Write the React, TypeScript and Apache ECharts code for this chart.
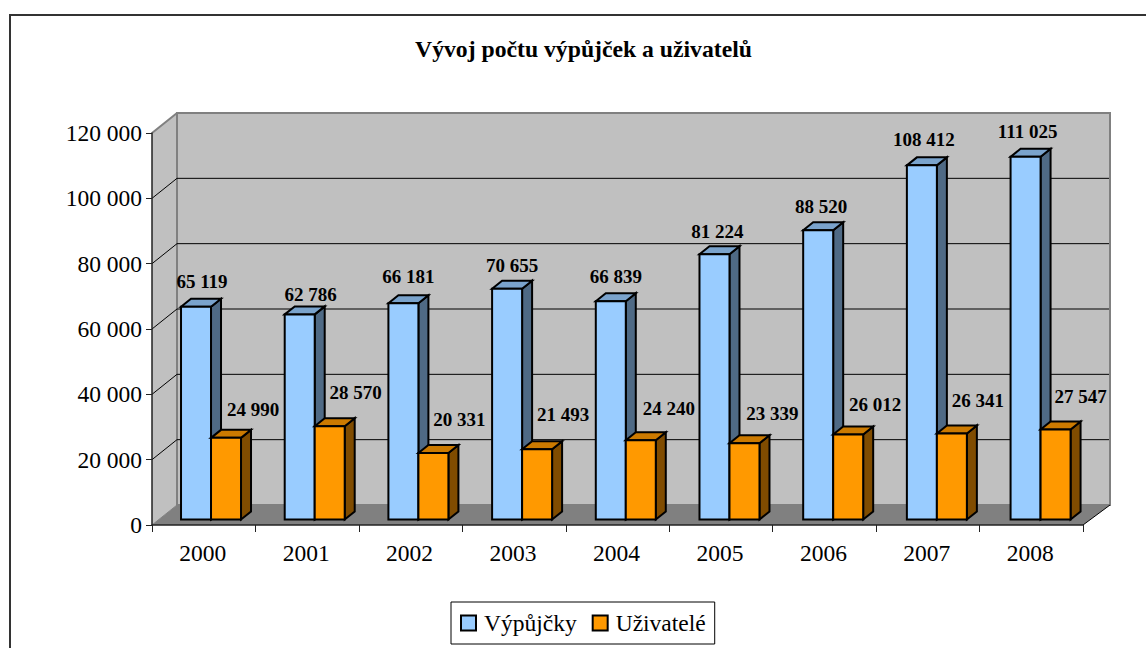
import React, { useEffect, useRef } from "react";
import * as echarts from "echarts";

const title = "Vývoj počtu výpůjček a uživatelů";
const years = ["2000", "2001", "2002", "2003", "2004", "2005", "2006", "2007", "2008"];
const vypujcky = [65119, 62786, 66181, 70655, 66839, 81224, 88520, 108412, 111025];
const uzivatele = [24990, 28570, 20331, 21493, 24240, 23339, 26012, 26341, 27547];
const yTicks = [0, 20000, 40000, 60000, 80000, 100000, 120000];
const seriesNames = ["Výpůjčky", "Uživatelé"];

const SERIF = '"Liberation Serif", "Times New Roman", serif';
const fmt = (v: number) => String(v).replace(/\B(?=(\d{3})+$)/g, " ");
const WALL_DX = 25;
const WALL_DY = 20;
const BAR_DX = 10;
const BAR_DY = 8;
const GROUND_DY = 5.5;
const BAR_DRIFT = 0.25;

// label placement tweaks (dx from bar centre, dy above the bar's rear top edge)
const blueLabelDx = [6, 11, 5, 5, 5, 3, 3, 2, 2];
const blueLabelDy = [17, 12, 19, 15, 17, 15, 16, 18, 17];
const orangeLabelDx = [27, 26, 26, 26, 28, 28, 27, 26, 25];
const orangeLabelDy = [20, 26, 26, 27, 24, 22, 22, 25, 25];

function barRenderer(
  offsetFrac: number,
  front: string,
  side: string,
  top: string,
  labelDx: number[],
  labelDy: number[]
) {
  return (params: any, api: any) => {
    const i = api.value(0);
    const v = api.value(1);
    const [xc, yBase] = api.coord([i, 0]);
    const [, yVal] = api.coord([i, v]);
    const bw = api.size([1, 0])[0];
    const w = bw * 0.29;
    const x0 = xc + bw * offsetFrac + BAR_DRIFT * i;
    const x1 = x0 + w;
    const y0 = yBase - GROUND_DY;
    const y1 = yVal - GROUND_DY;
    const stroke = { stroke: "#000", lineWidth: 2, lineJoin: "miter" };
    return {
      type: "group",
      children: [
        { type: "polygon", shape: { points: [[x1, y1], [x1 + BAR_DX, y1 - BAR_DY], [x1 + BAR_DX, y0 - BAR_DY], [x1, y0]] }, style: { fill: side, ...stroke } },
        { type: "polygon", shape: { points: [[x0, y1], [x0 + BAR_DX, y1 - BAR_DY], [x1 + BAR_DX, y1 - BAR_DY], [x1, y1]] }, style: { fill: top, ...stroke } },
        { type: "rect", shape: { x: x0, y: y1, width: w, height: y0 - y1 }, style: { fill: front, ...stroke } },
        {
          type: "text",
          style: {
            text: fmt(v),
            x: (x0 + x1) / 2 + labelDx[i],
            y: y1 - BAR_DY - labelDy[i],
            fill: "#000",
            font: `bold 19px ${SERIF}`,
            align: "center",
            verticalAlign: "middle",
          },
        },
      ],
    };
  };
}

const renderWalls = (params: any, api: any) => {
  const c = params.coordSys;
  const l = c.x, r = c.x + c.width, t = c.y, b = c.y + c.height;
  const edge = { stroke: "#808080", lineWidth: 2 };
  return {
    type: "group",
    children: [
      { type: "polygon", shape: { points: [[l, t], [l + WALL_DX, t - WALL_DY], [l + WALL_DX, b - WALL_DY], [l, b]] }, style: { fill: "#C0C0C0" } },
      { type: "rect", shape: { x: l + WALL_DX, y: t - WALL_DY, width: r - l + 2, height: b - t }, style: { fill: "#C0C0C0", ...edge } },
      { type: "polygon", shape: { points: [[l, b], [l + WALL_DX, b - WALL_DY], [r + WALL_DX + 2, b - WALL_DY], [r, b]] }, style: { fill: "#808080" } },
      { type: "line", shape: { x1: l, y1: t, x2: l + WALL_DX, y2: t - WALL_DY }, style: edge },
      { type: "line", shape: { x1: r, y1: b, x2: r + WALL_DX + 2, y2: b - WALL_DY }, style: { stroke: "#000", lineWidth: 1 } },
      { type: "line", shape: { x1: l, y1: b, x2: l + WALL_DX, y2: b - WALL_DY }, style: { stroke: "#808080", lineWidth: 1 } },
    ],
  };
};

const renderGridLine = (params: any, api: any) => {
  const c = params.coordSys;
  const v = api.value(0);
  const y = api.coord([0, v])[1];
  const l = c.x, r = c.x + c.width;
  return {
    type: "group",
    children: [
      { type: "line", shape: { x1: l, y1: y, x2: l + WALL_DX, y2: y - WALL_DY }, style: { stroke: "#000", lineWidth: 1 } },
      { type: "line", shape: { x1: l + WALL_DX, y1: y - WALL_DY, x2: r + WALL_DX + 1, y2: y - WALL_DY }, style: { stroke: "#000", lineWidth: 1 } },
    ],
  };
};

export default function App() {
  const ref = useRef<HTMLDivElement>(null);
  useEffect(() => {
    const chart = echarts.init(ref.current!, null, { renderer: "svg" });
    chart.setOption({
      animation: false,
      backgroundColor: "#fff",
      title: {
        text: title,
        left: 578.5,
        top: 32,
        textAlign: "center",
        textStyle: { fontFamily: SERIF, fontWeight: "bold", fontSize: 23.7, color: "#000" },
      },
      grid: { left: 152, top: 133, width: 931, height: 392, containLabel: false },
      xAxis: {
        type: "category",
        data: years,
        boundaryGap: true,
        axisLine: { lineStyle: { color: "#222", width: 1.5 } },
        axisTick: { show: true, length: 7, alignWithLabel: false, lineStyle: { color: "#222", width: 1 } },
        axisLabel: { fontFamily: SERIF, fontSize: 23.5, color: "#000", margin: 16, interval: 0, padding: [0, 2, 0, 0] },
        splitLine: { show: false },
      },
      yAxis: {
        type: "value",
        min: 0,
        max: 120000,
        interval: 20000,
        axisLine: { show: true, lineStyle: { color: "#222", width: 1.5 } },
        axisTick: { show: true, length: 6, lineStyle: { color: "#222", width: 1 } },
        axisLabel: { fontFamily: SERIF, fontSize: 23.5, color: "#000", margin: 10, formatter: (v: number) => fmt(v) },
        splitLine: { show: false },
      },
      legend: {
        left: 451,
        top: 602,
        orient: "horizontal",
        padding: [9, 9, 9, 9],
        itemGap: 15,
        itemWidth: 15,
        itemHeight: 15,
        icon: "rect",
        borderColor: "#000",
        borderWidth: 1,
        backgroundColor: "#fff",
        textStyle: { fontFamily: SERIF, fontSize: 23.5, color: "#000", padding: [0, 0, 0, 3] },
        data: [
          { name: seriesNames[0], itemStyle: { color: "#99CCFF", borderColor: "#000", borderWidth: 2 } },
          { name: seriesNames[1], itemStyle: { color: "#FF9900", borderColor: "#000", borderWidth: 2 } },
        ],
      },
      series: [
        { type: "custom", name: "walls", z: -2, silent: true, clip: false, data: [[0]], renderItem: renderWalls },
        {
          type: "custom",
          name: "grid",
          z: -1,
          silent: true,
          clip: false,
          data: yTicks.slice(1, -1).map((v) => [v]),
          encode: { y: 0 },
          renderItem: renderGridLine,
        },
        {
          type: "custom",
          name: seriesNames[0],
          z: 3,
          clip: false,
          itemStyle: { color: "#99CCFF" },
          encode: { x: 0, y: 1 },
          data: vypujcky.map((v, i) => [i, v]),
          renderItem: barRenderer(-0.2195, "#99CCFF", "#4F6A85", "#7AA3CC", blueLabelDx, blueLabelDy),
        },
        {
          type: "custom",
          name: seriesNames[1],
          z: 4,
          clip: false,
          itemStyle: { color: "#FF9900" },
          encode: { x: 0, y: 1 },
          data: uzivatele.map((v, i) => [i, v]),
          renderItem: barRenderer(0.0705, "#FF9900", "#804C00", "#CC7A00", orangeLabelDx, orangeLabelDy),
        },
      ],
      graphic: [
        {
          type: "polyline",
          silent: true,
          shape: { points: [[10, 648], [10, 15], [1146, 15]] },
          style: { stroke: "#333", lineWidth: 2, fill: "none" },
        },
      ],
    });
    return () => chart.dispose();
  }, []);
  return <div ref={ref} style={{ position: "fixed", left: 0, top: 0, width: 1146, height: 648 }} />;
}
